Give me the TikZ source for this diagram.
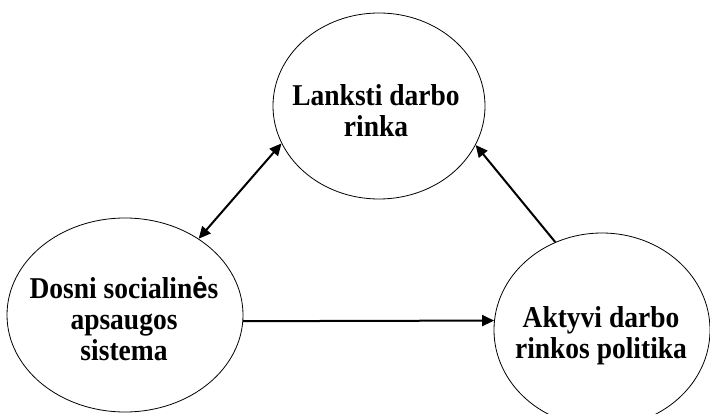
\documentclass[tikz,border=0pt]{standalone}
\usepackage{fontspec}
\usepackage{graphicx}
\setmainfont{Liberation Serif}
\newfontfamily\sansb{Liberation Sans}
\usetikzlibrary{shapes.geometric,arrows.meta}
\newcommand{\tallstack}[1]{\scalebox{1}[1.1]{\begin{tabular}{@{}c@{}}#1\end{tabular}}}
\begin{document}
\begin{tikzpicture}[x=1pt,y=-1pt,
  ell/.style={draw, ellipse, inner sep=0pt, line width=0.8pt},
  lbl/.style={font=\fontsize{27.5}{28}\selectfont\bfseries, inner sep=0pt},
  >={Triangle[length=12pt,width=11pt]},
  conn/.style={line width=2pt}]
\useasboundingbox (0,0) rectangle (710,414);
\node[ell, minimum width=212pt, minimum height=186pt] (t) at (379,106) {};
\node[ell, minimum width=236pt, minimum height=194pt] (l) at (125,315) {};
\node[ell, minimum width=216pt, minimum height=194pt] (r) at (602,330) {};
\node[lbl] (tt) at (376,115) {\tallstack{Lanksti darbo\\rinka}};
\node[lbl] (lt) at (124,323) {\tallstack{Dosni socialin{\sansb ė}s\\apsaugos\\sistema}};
\node[lbl] (rt) at (601,337) {\tallstack{Aktyvi darbo\\rinkos politika}};
\draw[conn, <->] (l.46) -- (t.-159);
\draw[conn, ->] (r.118) -- (t.-22);
\draw[conn, ->] (l.-3.4) -- (r.175.8);
\end{tikzpicture}
\end{document}
